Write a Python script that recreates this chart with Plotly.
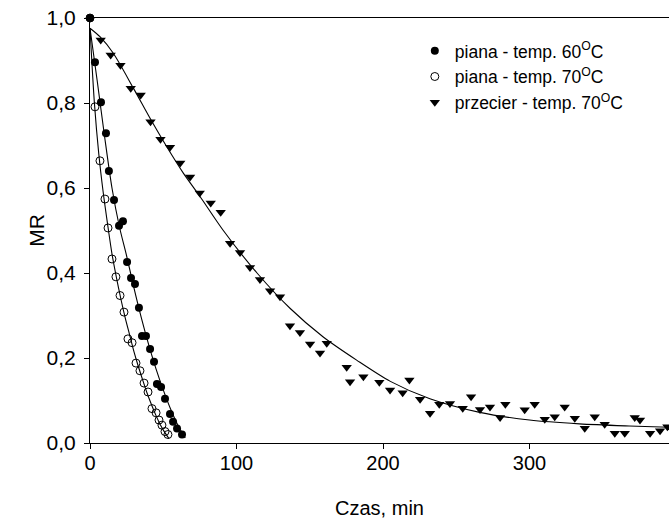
import plotly.graph_objects as go

# ---- data ----
t_p60 = [0, 3.4, 7.5, 10.9, 12.9, 16.4, 19.8, 22.5, 25.3, 28.0, 30.7, 33.4, 35.5, 38.2,
         41.0, 43.7, 45.7, 48.5, 51.2, 54.6, 56.7, 59.4, 62.8]
mr_p60 = [1.0, 0.896, 0.802, 0.729, 0.640, 0.572, 0.511, 0.522, 0.426, 0.388, 0.374, 0.318,
          0.252, 0.252, 0.221, 0.191, 0.139, 0.132, 0.104, 0.068, 0.050, 0.034, 0.020]

t_p70 = [0, 3.4, 6.8, 10.2, 12.3, 15.0, 17.7, 20.5, 23.2, 25.9, 28.7, 31.4, 34.1, 36.9,
         39.6, 42.3, 45.1, 47.1, 49.1, 51.2, 53.2]
mr_p70 = [1.0, 0.791, 0.664, 0.574, 0.506, 0.433, 0.391, 0.347, 0.308, 0.245, 0.236, 0.188,
          0.170, 0.141, 0.120, 0.081, 0.071, 0.054, 0.042, 0.027, 0.020]

t_prz = [0, 7.3, 14.1, 20.8, 27.8, 34.6, 41.3, 48.1, 54.6, 61.6, 68.3, 74.9, 82.4, 89.2,
         95.6, 102.4, 109.2, 116.0, 122.9, 129.7, 136.5, 143.3, 150.2, 157.0, 161.6, 175.2,
         177.5, 186.6, 197.5, 204.8, 213.4, 218.0, 225.3, 232.1, 238.4, 245.7, 254.4, 260.1,
         266.2, 273.0, 279.9, 283.5, 296.7, 303.5, 310.4, 317.2, 324.0, 330.9, 337.7, 344.5,
         351.3, 358.2, 365.0, 371.8, 375.4, 382.3, 389.1, 394.1]
mr_prz = [1.0, 0.948, 0.913, 0.889, 0.835, 0.819, 0.756, 0.715, 0.696, 0.659, 0.626, 0.588,
          0.565, 0.543, 0.470, 0.448, 0.413, 0.385, 0.358, 0.344, 0.276, 0.260, 0.233, 0.212,
          0.235, 0.178, 0.144, 0.156, 0.143, 0.125, 0.118, 0.148, 0.103, 0.070, 0.091, 0.093,
          0.082, 0.109, 0.079, 0.085, 0.060, 0.091, 0.078, 0.091, 0.056, 0.062, 0.085, 0.058,
          0.035, 0.062, 0.044, 0.023, 0.023, 0.060, 0.054, 0.023, 0.029, 0.038]

# fitted curves
tf_p60 = [0, 5, 10, 15, 20, 25, 30, 35, 40, 45, 50, 55, 60, 65]
mf_p60 = [0.976, 0.85, 0.72, 0.60, 0.51, 0.44, 0.365, 0.295, 0.232, 0.175, 0.125, 0.080,
          0.042, 0.012]

tf_p70 = [0, 3, 6, 9, 12, 15, 18, 21, 24, 27, 30, 33, 36, 39, 42, 45, 48, 51, 54]
mf_p70 = [0.976, 0.80, 0.68, 0.59, 0.515, 0.445, 0.39, 0.34, 0.295, 0.255, 0.215, 0.18,
          0.148, 0.117, 0.09, 0.065, 0.043, 0.025, 0.010]

tf_prz = [0, 6.8, 15.9, 29.6, 41, 52.4, 63.7, 75.1, 91, 114, 136.5, 159, 182, 205, 232,
          266, 300, 334, 368, 395.2]
mf_prz = [0.976, 0.956, 0.917, 0.835, 0.764, 0.697, 0.635, 0.58, 0.50, 0.40, 0.317, 0.25,
          0.195, 0.145, 0.104, 0.072, 0.054, 0.045, 0.040, 0.037]

x_ticks = [0, 100, 200, 300]
y_ticks = [0.0, 0.2, 0.4, 0.6, 0.8, 1.0]

FONT = "Liberation Sans, Arial, sans-serif"

fig = go.Figure()

line_style = dict(color="black", width=1.1, shape="spline", smoothing=0.8)
for tx, my in [(tf_p60, mf_p60), (tf_p70, mf_p70), (tf_prz, mf_prz)]:
    fig.add_trace(go.Scatter(x=tx, y=my, mode="lines", line=line_style,
                             showlegend=False, hoverinfo="skip"))

fig.add_trace(go.Scatter(x=t_p60, y=mr_p60, mode="markers", cliponaxis=False,
                         name="piana - temp. 60<sup>O</sup>C",
                         marker=dict(symbol="circle", size=8, color="black")))
fig.add_trace(go.Scatter(x=t_p70, y=mr_p70, mode="markers", cliponaxis=False,
                         name="piana - temp. 70<sup>O</sup>C",
                         marker=dict(symbol="circle-open", size=8, color="black",
                                     line=dict(width=1, color="black"))))
fig.add_trace(go.Scatter(x=t_prz, y=mr_prz, mode="markers", cliponaxis=True,
                         name="przecier - temp. 70<sup>O</sup>C",
                         marker=dict(symbol="triangle-down", size=9, color="black")))

fig.update_layout(
    width=669, height=523,
    margin=dict(l=90, r=0, t=18, b=80),
    paper_bgcolor="white", plot_bgcolor="white",
    separators=", ",
    font=dict(family=FONT, size=21, color="black"),
    showlegend=True,
    legend=dict(x=0.561, y=0.965, xanchor="left", yanchor="top",
                bgcolor="rgba(0,0,0,0)", borderwidth=0,
                font=dict(family=FONT, size=17.5, color="black")),
    annotations=[dict(text="MR", xref="paper", yref="paper", x=-0.093, y=0.5,
                      xanchor="center", yanchor="middle", textangle=-90, showarrow=False,
                      font=dict(family=FONT, size=21, color="black"))],
)
fig.update_xaxes(
    range=[0, 395.2], tickvals=x_ticks, ticks="outside", ticklen=5, tickwidth=1,
    tickcolor="black", showline=True, linecolor="black", linewidth=1, mirror=True,
    showgrid=False, zeroline=False, ticklabelstandoff=-3,
    title=dict(text="Czas, min", font=dict(family=FONT, size=20), standoff=27),
    tickfont=dict(family=FONT, size=20),
)
fig.update_yaxes(
    range=[0, 1.0], tickvals=y_ticks, tickformat=".1f", ticks="outside", ticklen=5,
    tickwidth=1, tickcolor="black", showline=True, linecolor="black", linewidth=1,
    mirror=False, showgrid=False, zeroline=False, ticklabelstandoff=4,
    tickfont=dict(family=FONT, size=21),
)

fig.write_html("out.html")
